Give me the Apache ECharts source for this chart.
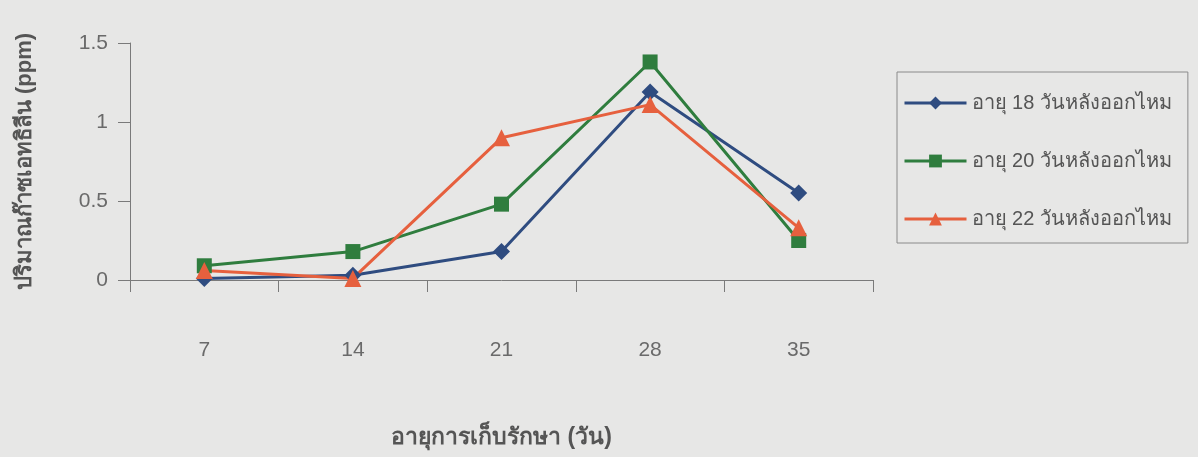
<!DOCTYPE html>
<html>
<head>
<meta charset="utf-8">
<script src="https://cdn.jsdelivr.net/npm/echarts@6/dist/echarts.min.js"></script>
<style>
html, body { margin: 0; padding: 0; background: #e7e7e6; }
#main { width: 1198px; height: 457px; }
</style>
</head>
<body>
<div id="main"></div>
<script>
// ข้อมูล
var days = ['7', '14', '21', '28', '35'];
var age18 = [0.01, 0.03, 0.18, 1.19, 0.55];
var age20 = [0.09, 0.18, 0.48, 1.38, 0.25];
var age22 = [0.06, 0.01, 0.90, 1.11, 0.33];
var yTicks = [0, 0.5, 1, 1.5];

var font = '"Liberation Sans", Arial, "Noto Sans", sans-serif';
var chart = echarts.init(document.getElementById('main'));

var option = {
	backgroundColor: '#e7e7e6',
	animation: false,
	textStyle: { fontFamily: font },
	grid: { left: 130, right: 325, top: 43, bottom: 177, outerBoundsMode: 'none', containLabel: false },
	legend: {
		orient: 'vertical',
		left: 897,
		top: 72,
		padding: [21, 16, 14, 6],
		itemGap: 38,
		itemWidth: 62,
		itemHeight: 16,
		borderColor: '#8a8a8a',
		borderWidth: 1,
		lineStyle: { width: 3 },
		textStyle: { fontSize: 20, color: '#555', fontFamily: font },
		data: ['อายุ 18 วันหลังออกไหม', 'อายุ 20 วันหลังออกไหม', 'อายุ 22 วันหลังออกไหม']
	},
	xAxis: {
		type: 'category',
		data: days,
		boundaryGap: true,
		name: 'อายุการเก็บรักษา (วัน)',
		nameLocation: 'middle',
		nameGap: 146,
		nameTextStyle: { fontSize: 23, fontWeight: 'bold', color: '#555', fontFamily: font },
		axisLine: { lineStyle: { color: '#7a7a7a', width: 1 } },
		axisTick: { show: true, length: 12, lineStyle: { color: '#7a7a7a' } },
		axisLabel: { margin: 60, fontSize: 21, color: '#6a6a6a' }
	},
	yAxis: {
		type: 'value',
		min: 0,
		max: 1.5,
		interval: 0.5,
		name: 'ปริมาณก๊าซเอทธิลีน (ppm)',
		nameLocation: 'middle',
		nameGap: 94,
		nameTextStyle: { fontSize: 22, fontWeight: 'bold', color: '#555', fontFamily: font },
		axisLine: { show: true, lineStyle: { color: '#7a7a7a', width: 1 } },
		axisTick: { show: true, length: 12, lineStyle: { color: '#7a7a7a' } },
		axisLabel: {
			margin: 22, fontSize: 21, color: '#6a6a6a',
			formatter: function (v) { return yTicks.indexOf(v) >= 0 ? String(v) : ''; }
		},
		splitLine: { show: false }
	},
	series: [{
		name: 'อายุ 18 วันหลังออกไหม',
		type: 'line',
		data: age18,
		symbol: 'diamond',
		symbolSize: 17,
		color: '#2f4c80',
		lineStyle: { width: 3 }
	}, {
		name: 'อายุ 20 วันหลังออกไหม',
		type: 'line',
		data: age20,
		symbol: 'rect',
		symbolSize: 15,
		color: '#2f7d3e',
		lineStyle: { width: 3 }
	}, {
		name: 'อายุ 22 วันหลังออกไหม',
		type: 'line',
		data: age22,
		symbol: 'triangle',
		symbolSize: 17,
		color: '#e6603e',
		lineStyle: { width: 3 }
	}]
};

chart.setOption(option);
</script>
</body>
</html>
